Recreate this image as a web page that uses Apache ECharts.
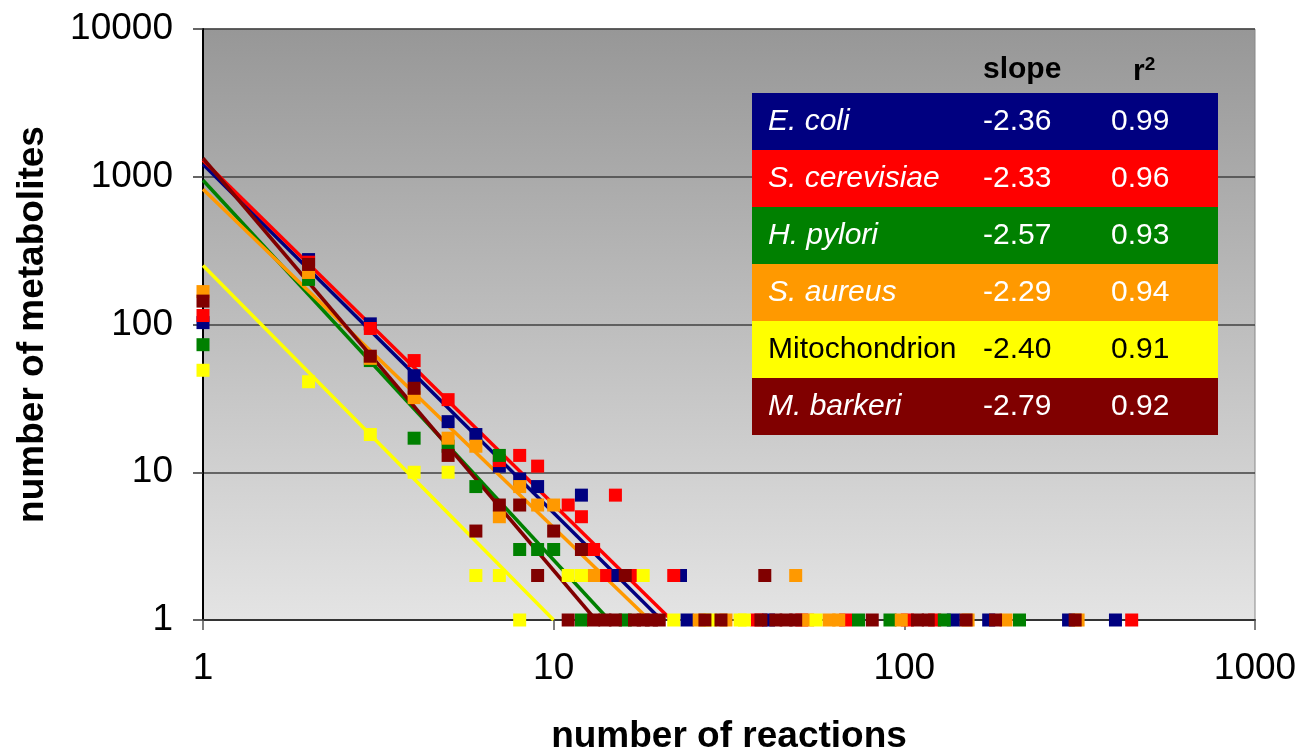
<!DOCTYPE html>
<html><head><meta charset="utf-8">
<script src="https://cdn.jsdelivr.net/npm/echarts@6/dist/echarts.min.js"></script>
<style>html,body{margin:0;padding:0;background:#fff}#c{width:1299px;height:750px}</style>
</head><body><div id="c"></div>
<script>
// ---- data ----
const speciesNames = ['E. coli', 'S. cerevisiae', 'H. pylori', 'S. aureus', 'Mitochondrion', 'M. barkeri'];
const speciesItalic = [true, true, true, true, false, true];
const speciesColors = ['#000080', '#FF0000', '#008000', '#FF9900', '#FFFF00', '#800000'];
const slopes = ['-2.36', '-2.33', '-2.57', '-2.29', '-2.40', '-2.79'];
const r2Values = ['0.99', '0.96', '0.93', '0.94', '0.91', '0.92'];
// power-law trendline coefficient (value at x = 1)
const fitCoef = [1216, 1294, 946, 823, 251, 1334];

const ecoliX = [1, 2, 3, 4, 5, 6, 7, 8, 9, 12, 15, 23, 24, 41, 138, 174, 294, 400];
const ecoliY = [103, 275, 101, 45, 22, 18, 11, 9, 8, 7, 2, 2, 1, 1, 1, 1, 1, 1];

const scerX = [1, 2, 3, 4, 5, 7, 8, 9, 11, 12, 13, 14, 15, 17, 22, 38, 51, 68, 102, 122, 445];
const scerY = [115, 264, 94, 57, 31, 12, 13, 11, 6, 5, 3, 2, 7, 2, 2, 1, 1, 1, 1, 1, 1];

const hpylX = [1, 2, 3, 4, 5, 6, 7, 8, 9, 10, 12, 16, 74, 91, 130, 213];
const hpylY = [73, 202, 57, 17, 15, 8, 13, 3, 3, 3, 1, 1, 1, 1, 1, 1];

const saurX = [1, 2, 3, 4, 5, 6, 7, 8, 9, 10, 13, 26, 31, 49, 53, 61, 65, 98, 152, 195, 313];
const saurY = [167, 225, 59, 32, 17, 15, 5, 8, 6, 6, 2, 1, 1, 2, 1, 1, 1, 1, 1, 1, 1];

const mitoX = [1, 2, 3, 4, 5, 6, 7, 8, 11, 12, 18, 22, 28, 34, 35, 56];
const mitoY = [49, 41, 18, 10, 10, 2, 2, 1, 2, 2, 2, 1, 1, 1, 1, 1];

const mbarX = [1, 2, 3, 4, 5, 6, 7, 8, 9, 10, 11, 12, 13, 14, 15, 16, 17, 18, 19, 20, 27, 30, 39, 40, 43, 46, 49, 81, 109, 117, 150, 182, 307];
const mbarY = [144, 255, 61, 37, 13, 4, 6, 6, 2, 4, 1, 3, 1, 1, 1, 2, 1, 1, 1, 1, 1, 1, 1, 2, 1, 1, 1, 1, 1, 1, 1, 1, 1];

const xTickLabels = ['1', '10', '100', '1000'];
const yTickLabels = ['1', '10', '100', '1000', '10000'];
const xTitle = 'number of reactions';
const yTitle = 'number of metabolites';

// ---- build ----
const allX = [ecoliX, scerX, hpylX, saurX, mitoX, mbarX];
const allY = [ecoliY, scerY, hpylY, saurY, mitoY, mbarY];
const FONT = '"Liberation Sans", Arial, Helvetica, sans-serif';

const series = [];
// trendlines (drawn under markers)
speciesNames.forEach((n, i) => {
  const s = parseFloat(slopes[i]);
  const xEnd = Math.pow(fitCoef[i], -1 / s);
  series.push({
    type: 'line', name: n + ' fit', silent: true, z: 2,
    data: [[1, fitCoef[i]], [xEnd, 1]],
    showSymbol: false, symbol: 'none',
    lineStyle: { color: speciesColors[i], width: 3.5 },
    animation: false
  });
});
speciesNames.forEach((n, i) => {
  series.push({
    type: 'scatter', name: n, z: 3, clip: false,
    symbol: 'rect', symbolSize: 13,
    itemStyle: { color: speciesColors[i], opacity: 1 },
    data: allX[i].map((x, k) => [x, allY[i][k]]),
    animation: false
  });
});

// table graphic
const tLeft = 752, tTop = 93, rowH = 57, tW = 466;
const nameX = 768, slopeX = 983, r2X = 1111;
const graphics = [];
graphics.push({ type: 'text', left: slopeX, top: 55, z: 100,
  style: { text: 'slope', font: 'bold 30px ' + FONT, fill: '#000' } });
graphics.push({ type: 'text', left: 1133, top: 55, z: 100,
  style: { text: '{a|r}{b|2}', fill: '#000',
    rich: { a: { font: 'bold 30px ' + FONT, fill: '#000' },
            b: { font: 'bold 19px ' + FONT, fill: '#000', verticalAlign: 'top', padding: [0, 0, 14, 0] } } } });
speciesNames.forEach((n, i) => {
  const y = tTop + i * rowH;
  const txtColor = (i === 4) ? '#000' : '#fff';
  graphics.push({ type: 'rect', z: 90, shape: { x: tLeft, y: y, width: tW, height: rowH },
    style: { fill: speciesColors[i] } });
  graphics.push({ type: 'text', z: 100, x: nameX, y: y + rowH / 2,
    style: { text: n, font: (speciesItalic[i] ? 'italic ' : '') + '30px ' + FONT, fill: txtColor, verticalAlign: 'middle' } });
  graphics.push({ type: 'text', z: 100, x: slopeX, y: y + rowH / 2,
    style: { text: slopes[i], font: '30px ' + FONT, fill: txtColor, verticalAlign: 'middle' } });
  graphics.push({ type: 'text', z: 100, x: r2X, y: y + rowH / 2,
    style: { text: r2Values[i], font: '30px ' + FONT, fill: txtColor, verticalAlign: 'middle' } });
});

const chart = echarts.init(document.getElementById('c'), null, { renderer: 'canvas' });
chart.setOption({
  animation: false,
  backgroundColor: '#ffffff',
  grid: {
    left: 203, right: 44, top: 29, bottom: 130, show: true,
    containLabel: false, outerBoundsMode: 'none',
    backgroundColor: { type: 'linear', x: 0, y: 0, x2: 0, y2: 1,
      colorStops: [{ offset: 0, color: '#979797' }, { offset: 1, color: '#e4e4e4' }] },
    borderColor: '#888', borderWidth: 1
  },
  xAxis: {
    type: 'log', logBase: 10, min: 1, max: 1000,
    name: xTitle, nameLocation: 'middle', nameGap: 98,
    nameTextStyle: { fontFamily: FONT, fontWeight: 'bold', fontSize: 37, color: '#000' },
    axisLine: { show: true, lineStyle: { color: '#333', width: 2 } },
    axisTick: { show: true, inside: false, length: 10, lineStyle: { color: '#555', width: 1.5 } },
    minorTick: { show: false },
    splitLine: { show: false },
    axisLabel: { fontFamily: FONT, fontSize: 37, color: '#000', margin: 30,
      formatter: v => xTickLabels[Math.round(Math.log10(v))] }
  },
  yAxis: {
    type: 'log', logBase: 10, min: 1, max: 10000,
    name: yTitle, nameLocation: 'middle', nameGap: 152,
    nameTextStyle: { fontFamily: FONT, fontWeight: 'bold', fontSize: 37, color: '#000' },
    axisLine: { show: true, lineStyle: { color: '#000', width: 2 } },
    axisTick: { show: true, inside: false, length: 10, lineStyle: { color: '#333', width: 1.5 } },
    minorTick: { show: false },
    splitLine: { show: true, lineStyle: { color: '#404040', width: 1.5 } },
    axisLabel: { fontFamily: FONT, fontSize: 37, color: '#000', margin: 30,
      formatter: v => yTickLabels[Math.round(Math.log10(v))] }
  },
  series: series,
  graphic: graphics
});
</script>
</body></html>
